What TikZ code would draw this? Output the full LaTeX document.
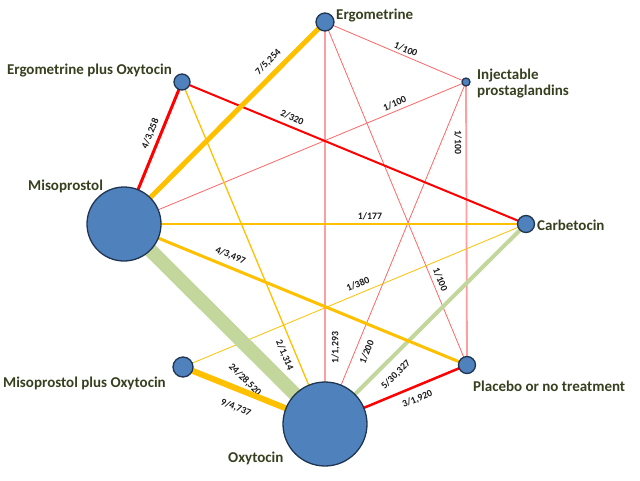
\documentclass[tikz,border=0pt]{standalone}
\usepackage{fontspec}
\setmainfont{Carlito}
\usetikzlibrary{backgrounds}
\definecolor{ballfill}{HTML}{4F81BD}
\definecolor{balldraw}{HTML}{1F3552}
\definecolor{ora}{HTML}{FFC000}
\definecolor{redl}{HTML}{FF0000}
\definecolor{pinkthin}{HTML}{FF6666}
\definecolor{pinkwide}{HTML}{FF9E9E}
\definecolor{grn}{HTML}{C3D69B}
\definecolor{txt}{HTML}{36401F}
\tikzset{
  ball/.style={circle, fill=ballfill, draw=balldraw, line width=1.3pt, inner sep=0pt},
  tname/.style={font=\bfseries\fontsize{15}{16}\selectfont, text=txt, inner sep=0pt},
  lab/.style={font=\bfseries\fontsize{9.8}{10}\selectfont, text=black!90, inner sep=1pt, sloped},
  e_ora/.style={draw=ora},
  e_red/.style={draw=redl},
  e_pink/.style={draw=pinkthin, line width=0.8pt},
  e_pinkw/.style={draw=pinkwide, line width=1.8pt},
  e_grn/.style={draw=grn}
}
\begin{document}
\begin{tikzpicture}[x=1pt,y=-1pt]
\useasboundingbox (0,0) rectangle (640,480);
% treatment nodes
\node[ball, minimum size=18pt] (E)  at (325,22)  {};
\node[ball, minimum size=16pt] (EO) at (182,82)  {};
\node[ball, minimum size=8pt]  (I)  at (466,82)  {};
\node[ball, minimum size=74pt] (M)  at (124,224) {};
\node[ball, minimum size=17pt] (C)  at (526,224) {};
\node[ball, minimum size=20pt] (MO) at (183,367) {};
\node[ball, minimum size=17pt] (P)  at (467,365) {};
\node[ball, minimum size=84pt] (O)  at (325,424) {};
% names
\node[tname, anchor=base west] (tE)  at (336,19)  {Ergometrine};
\node[tname, anchor=base east] (tEO) at (172,74)  {Ergometrine plus Oxytocin};
\node[tname, anchor=north west, align=left] (tI) at (477,69) {Injectable\\prostaglandins};
\node[tname, anchor=base west] (tM)  at (28,190)  {Misoprostol};
\node[tname, anchor=base west] (tC)  at (537,230) {Carbetocin};
\node[tname, anchor=base west] (tMO) at (3,387)   {Misoprostol plus Oxytocin};
\node[tname, anchor=base west] (tO)  at (228,462) {Oxytocin};
\node[tname, anchor=base west] (tP)  at (473,391) {Placebo or no treatment};
% connectors
\begin{scope}[on background layer]
\draw[e_pinkw] (O.center) -- node[lab, pos=0.19, below=4.5pt] {1/1,293} (E.center);
\draw[e_pinkw] (P.center) -- node[lab, pos=0.788, below=2.5pt] {1/100} (I.center);
\draw[e_pink] (E.center) -- node[lab, pos=0.555, above=1.5pt] {1/100} (I.center);
\draw[e_pink] (M.center) -- node[lab, pos=0.80, above=2.5pt] {1/100} (I.center);
\draw[e_pink] (E.center) -- node[lab, pos=0.76, above=3pt] {1/100} (P.center);
\draw[e_pink] (O.center) -- node[lab, pos=0.223, below=6pt] {1/200} (I.center);
\draw[e_ora, line width=0.8pt] (MO.center) -- node[lab, pos=0.52, above=4pt] {1/380} (C.center);
\draw[e_ora, line width=1.3pt] (M.center) -- node[lab, pos=0.612, above=2.5pt] {1/177} (C.center);
\draw[e_ora, line width=1.3pt] (EO.center) -- node[lab, pos=0.787, below=5pt] {2/1,314} (O.center);
\draw[e_red, line width=2pt] (EO.center) -- node[lab, pos=0.31, above=3.5pt] {2/320} (C.center);
\draw[e_grn, line width=14pt] (M.center) -- node[lab, pos=0.69, below=13pt] {24/28,520} (O.center);
\draw[e_grn, line width=4pt] (O.center) -- node[lab, pos=0.30, below=8pt] {5/30,327} (C.center);
\draw[e_ora, line width=3pt] (M.center) -- node[lab, pos=0.298, above=4.5pt] {4/3,497} (P.center);
\draw[e_ora, line width=5pt] (M.center) -- node[lab, pos=0.76, above=4.5pt] {7/5,254} (E.center);
\draw[e_ora, line width=6pt] (MO.center) -- node[lab, pos=0.42, below=10pt] {9/4,737} (O.center);
\draw[e_red, line width=3pt] (M.center) -- node[lab, pos=0.61, above=3pt] {4/3,258} (EO.center);
\draw[e_red, line width=2.5pt] (O.center) -- node[lab, pos=0.617, below=6pt] {3/1,920} (P.center);
\end{scope}
\end{tikzpicture}
\end{document}
